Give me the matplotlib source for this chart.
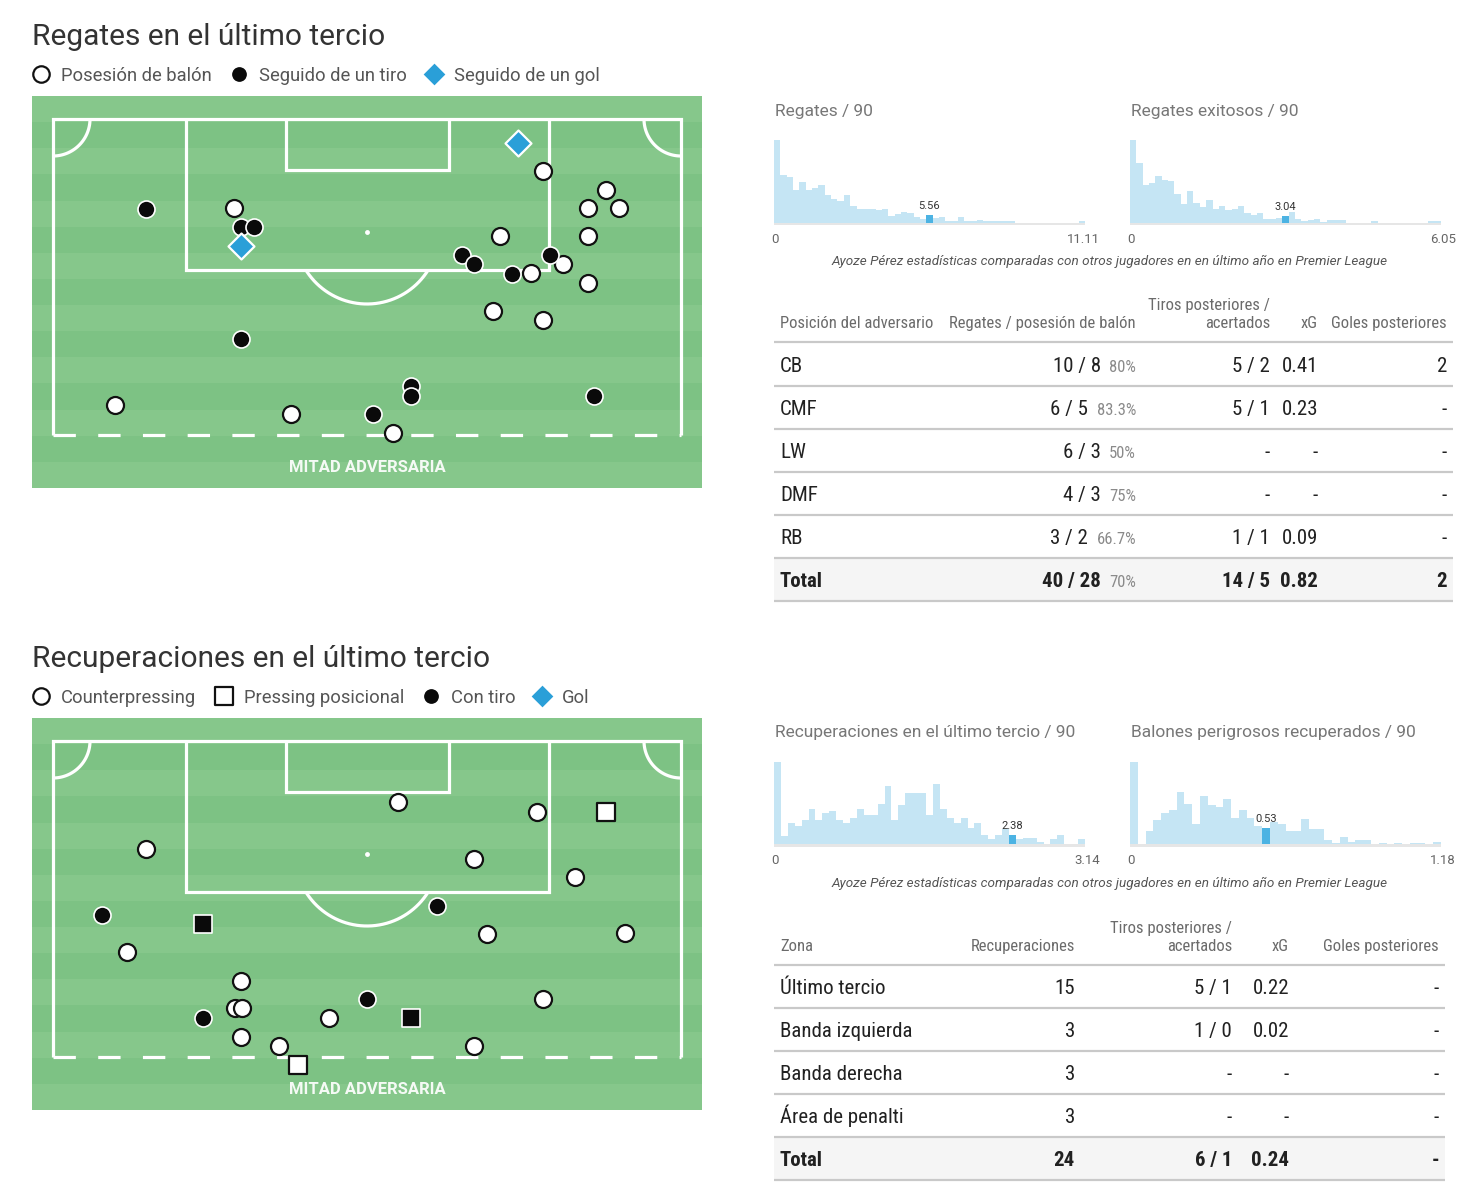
import numpy as np
import matplotlib
matplotlib.use('Agg')
import matplotlib.pyplot as plt
from matplotlib.patches import Rectangle
from matplotlib.textpath import TextPath
from matplotlib.font_manager import FontProperties, fontManager

W, H, DPI = 1480, 1187, 100

# --- Pitch 1: dribbles (metres: x across from left touchline, y from goal line) ---
P1_POS_X = [19.6, 53.1, 59.9, 57.9, 61.3, 48.4, 57.9, 55.2, 51.8, 57.9, 47.6, 53.1, 6.7, 25.8, 36.8]
P1_POS_Y = [9.9, 5.8, 7.9, 9.9, 9.9, 13.0, 13.0, 16.1, 17.1, 18.2, 21.3, 22.3, 31.7, 32.7, 34.8]
P1_SHOT_X = [10.1, 20.4, 21.8, 44.3, 45.6, 53.8, 49.7, 20.4, 38.8, 38.8, 34.7, 58.6]
P1_SHOT_Y = [10.0, 12.0, 12.0, 15.1, 16.1, 15.1, 17.2, 24.4, 29.6, 30.7, 32.7, 30.7]
P1_GOAL_X = [50.4, 20.4]
P1_GOAL_Y = [2.7, 14.1]

# --- Pitch 2: recoveries ---
P2_CP_X = [37.4, 52.4, 10.1, 45.6, 56.5, 47.0, 61.9, 8.0, 20.4, 53.1, 19.7, 20.5, 20.4, 29.9, 24.5, 45.6]
P2_CP_Y = [6.8, 7.9, 12.0, 13.1, 15.1, 21.4, 21.3, 23.4, 26.6, 28.6, 29.6, 29.6, 32.8, 30.7, 33.8, 33.8]
P2_PP_X = [59.9, 26.5]
P2_PP_Y = [7.9, 35.9]
P2_PP_SHOT_X = [16.2, 38.8]
P2_PP_SHOT_Y = [20.3, 30.7]
P2_SHOT_X = [5.3, 41.6, 34.0, 16.2]
P2_SHOT_Y = [19.3, 18.3, 28.6, 30.7]

# --- Distribution histograms (relative heights) ---
H1 = [1.00, 0.58, 0.55, 0.40, 0.49, 0.40, 0.42, 0.46, 0.33, 0.29, 0.26, 0.33, 0.20, 0.16, 0.16,
      0.16, 0.15, 0.16, 0.08, 0.11, 0.13, 0.12, 0.07, 0.05, 0.09, 0.06, 0.065, 0.02, 0.02, 0.065,
      0.025, 0.025, 0.035, 0.02, 0.02, 0.02, 0.02, 0.02, 0, 0, 0, 0, 0, 0, 0, 0, 0, 0, 0.02]
H1_HL, H1_VAL, H1_MAX = 24, '5.56', '11.11'
H2 = [1.00, 0.72, 0.46, 0.48, 0.56, 0.52, 0.51, 0.35, 0.23, 0.38, 0.24, 0.19, 0.27, 0.17, 0.20,
      0.15, 0.17, 0.20, 0.12, 0.09, 0.12, 0.04, 0.05, 0.06, 0.08, 0.13, 0.04, 0.02, 0.03, 0.04,
      0.01, 0.03, 0.03, 0.03, 0, 0, 0, 0, 0.02, 0, 0, 0, 0, 0, 0, 0, 0, 0.02, 0.02]
H2_HL, H2_VAL, H2_MAX = 24, '3.04', '6.05'
H3 = [1.00, 0.10, 0.26, 0.22, 0.29, 0.43, 0.29, 0.38, 0.40, 0.29, 0.26, 0.32, 0.43, 0.35, 0.35,
      0.49, 0.71, 0.29, 0.47, 0.62, 0.62, 0.62, 0.35, 0.73, 0.43, 0.32, 0.26, 0.32, 0.20, 0.26,
      0.11, 0.07, 0.11, 0.18, 0.11, 0.06, 0.08, 0.08, 0.03, 0, 0.06, 0.11, 0, 0, 0.06]
H3_HL, H3_VAL, H3_MAX = 34, '2.38', '3.14'
H4 = [1.00, 0, 0.16, 0.29, 0.38, 0.41, 0.63, 0.49, 0.24, 0.59, 0.47, 0.45, 0.55, 0.32, 0.42,
      0.32, 0.22, 0.20, 0.27, 0.24, 0.16, 0.16, 0.30, 0.18, 0.18, 0.05, 0.01, 0.09, 0.03, 0.05,
      0.05, 0, 0.02, 0, 0.02, 0, 0.02, 0.02, 0, 0.03]
H4_HL, H4_VAL, H4_MAX = 17, '0.53', '1.18'

CAPTION = 'Ayoze Pérez estadísticas comparadas con otros jugadores en en último año en Premier League'

# --- Table 1 ---
T1_HEAD = ['Posición del adversario', 'Regates / posesión de balón', 'Tiros posteriores /\nacertados', 'xG', 'Goles posteriores']
T1_POS = ['CB', 'CMF', 'LW', 'DMF', 'RB', 'Total']
T1_REG = ['10 / 8', '6 / 5', '6 / 3', '4 / 3', '3 / 2', '40 / 28']
T1_PCT = ['80%', '83.3%', '50%', '75%', '66.7%', '70%']
T1_TIROS = ['5 / 2', '5 / 1', '-', '-', '1 / 1', '14 / 5']
T1_XG = ['0.41', '0.23', '-', '-', '0.09', '0.82']
T1_GOLES = ['2', '-', '-', '-', '-', '2']

# --- Table 2 ---
T2_HEAD = ['Zona', 'Recuperaciones', 'Tiros posteriores /\nacertados', 'xG', 'Goles posteriores']
T2_ZONA = ['Último tercio', 'Banda izquierda', 'Banda derecha', 'Área de penalti', 'Total']
T2_REC = ['15', '3', '3', '3', '24']
T2_TIROS = ['5 / 1', '1 / 0', '-', '-', '6 / 1']
T2_XG = ['0.22', '0.02', '-', '-', '0.24']
T2_GOLES = ['-', '-', '-', '-', '-']

# --- styling ---
FONT = 'Roboto'
_names = {f.name for f in fontManager.ttflist}
if 'Roboto Condensed' in _names:
    TFONT, HSZ, RSZ, PSZ = 'Roboto Condensed', 12, 15, 12
else:
    TFONT, HSZ, RSZ, PSZ = 'Roboto', 10.5, 13.3, 10.5
plt.rcParams['font.family'] = [FONT, 'DejaVu Sans']

GREEN_L, GREEN_D = '#86c78b', '#7dc284'
BAR_C, HL_C = '#c5e5f4', '#4cb3e3'
BLUE = '#2a9fd8'
SX = 628 / 68.0   # px per metre across the pitch
SY = 316 / 35.0   # px per metre from the goal line

fig = plt.figure(figsize=(W / DPI, H / DPI), dpi=DPI)
ov = fig.add_axes([0, 0, 1, 1])
ov.set_xlim(0, W)
ov.set_ylim(H, 0)
ov.axis('off')


def frac(x0, y0, x1, y1):
    return [x0 / W, 1 - y1 / H, (x1 - x0) / W, (y1 - y0) / H]


def text_w(s, size, weight='normal', family=TFONT):
    fp = FontProperties(family=family, size=size, weight=weight)
    return TextPath((0, 0), s, size=size, prop=fp).get_extents().width * DPI / 72


def draw_pitch(top):
    ax = fig.add_axes(frac(32, top, 702, top + 392))
    y_top, y_bot = -23 / SY, 369 / SY
    ax.set_xlim(-21 / SX, 649 / SX)
    ax.set_ylim(y_bot, y_top)
    ax.axis('off')
    n = 15
    h = (y_bot - y_top) / n
    for i in range(n):
        ax.axhspan(y_top + i * h, y_top + (i + 1) * h, color=GREEN_L if i % 2 == 0 else GREEN_D, lw=0)
    kw = dict(color='white', lw=2.3, solid_capstyle='butt', solid_joinstyle='miter', zorder=2)
    ax.plot([0, 0, 68, 68], [35, 0, 0, 35], **kw)
    ax.plot([0, 68], [35, 35], color='white', lw=2.3, linestyle=(0, (7, 7)), dash_capstyle='butt', zorder=2)
    bx0, bx1, bd = 133 / SX, 496 / SX, 151 / SY
    ax.plot([bx0, bx0, bx1, bx1], [0, bd, bd, 0], **kw)
    gx0, gx1, gd = 233 / SX, 396 / SX, 51 / SY
    ax.plot([gx0, gx0, gx1, gx1], [0, gd, gd, 0], **kw)
    spx, spy = 314 / SX, 113 / SY
    ax.plot(spx, spy, 'o', color='white', ms=3.5, mec='none', zorder=2)
    t = np.linspace(0, np.pi, 300)
    arx = spx + 72 * np.cos(t) / SX
    ary = spy + 72 * np.sin(t) / SY
    m = ary >= bd
    ax.plot(arx[m], ary[m], **kw)
    t = np.linspace(0, np.pi / 2, 60)
    ax.plot(37 * np.cos(t) / SX, 37 * np.sin(t) / SY, **kw)
    ax.plot(68 - 37 * np.cos(t) / SX, 37 * np.sin(t) / SY, **kw)
    ax.text(34, 348 / SY, 'MITAD ADVERSARIA', color='white', alpha=0.92, fontsize=12,
            fontweight='bold', ha='center', va='center', zorder=2)
    return ax


def white_pts(ax, x, y, marker='o', s=150):
    ax.scatter(x, y, s=s, marker=marker, facecolor='white', edgecolor='#111111', linewidths=1.6, zorder=5)


def black_pts(ax, x, y, marker='o', s=150):
    ax.scatter(x, y, s=s, marker=marker, facecolor='#0a0a0a', edgecolor='white', linewidths=1.2, zorder=6)


def goal_pts(ax, x, y):
    ax.scatter(x, y, s=175, marker='D', facecolor=BLUE, edgecolor='white', linewidths=1.6, zorder=7)


def draw_hist(x0, base, vals, hl, val, vmax, title):
    ax = fig.add_axes(frac(x0, base - 82.7, x0 + 311, base))
    n = len(vals)
    cols = [HL_C if i == hl else BAR_C for i in range(n)]
    ax.bar(np.arange(n), vals, width=1.0, color=cols, linewidth=0, antialiased=False)
    ax.set_xlim(-0.5, n - 0.5)
    ax.set_ylim(0, 1)
    ax.axis('off')
    ax.annotate(val, (hl, vals[hl]), xytext=(0, 3), textcoords='offset points',
                ha='center', va='bottom', fontsize=8, color='#333333')
    ov.add_patch(Rectangle((x0, base), 311, 2.5, color='#e6e6e6', lw=0))
    ov.text(x0 + 1, base - 107, title, fontsize=12.5, color='#777777', va='baseline', ha='left')
    ov.text(x0 - 3, base + 20, '0', fontsize=9.5, color='#666666', va='baseline', ha='left')
    ov.text(x0 + 326, base + 20, vmax, fontsize=9.5, color='#666666', va='baseline', ha='right')


def legend_row(y, items):
    for x, kind, label in items:
        if kind == 'white':
            ov.scatter([x], [y], s=140, facecolor='white', edgecolor='#111111', linewidths=1.6)
        elif kind == 'black':
            ov.scatter([x], [y], s=140, facecolor='#0a0a0a', edgecolor='white', linewidths=1.2)
        elif kind == 'square':
            ov.scatter([x], [y], s=150, marker='s', facecolor='white', edgecolor='#111111', linewidths=1.6)
        else:
            ov.scatter([x], [y], s=150, marker='D', facecolor=BLUE, edgecolor='white', linewidths=1.2)
        ov.text(x + 20, y + 7, label, fontsize=13.2, color='#555555', va='baseline', ha='left')


def table_lines(x0, x1, ys, total_top):
    ov.add_patch(Rectangle((x0, total_top), x1 - x0, 43, color='#f5f5f5', lw=0, zorder=0))
    for y in ys:
        ov.plot([x0, x1], [y, y], color='#c9c9c9', lw=1.6, solid_capstyle='butt', zorder=1)


def header(hy, left, rights, labels):
    ov.text(left, hy, labels[0], family=TFONT, fontsize=HSZ, color='#6b6b6b', va='baseline', ha='left')
    for r, lab in zip(rights, labels[1:]):
        lines = lab.split('\n')
        for k, ln in enumerate(reversed(lines)):
            ov.text(r, hy - 18 * k, ln, family=TFONT, fontsize=HSZ, color='#6b6b6b', va='baseline', ha='right')


def cell(x, y, s, ha='right', bold=False, size=None, color='#212121'):
    ov.text(x, y, s, family=TFONT, fontsize=size or RSZ, color=color, va='baseline', ha=ha,
            fontweight='bold' if bold else 'normal')


# ---------------- Section 1 ----------------
ov.text(32, 45, 'Regates en el último tercio', fontsize=21.5, color='#333333', va='baseline')
legend_row(74, [(41, 'white', 'Posesión de balón'), (239, 'black', 'Seguido de un tiro'),
                (434, 'diamond', 'Seguido de un gol')])
p1 = draw_pitch(96)
white_pts(p1, P1_POS_X, P1_POS_Y)
black_pts(p1, P1_SHOT_X, P1_SHOT_Y)
goal_pts(p1, P1_GOAL_X, P1_GOAL_Y)

draw_hist(774, 222.7, H1, H1_HL, H1_VAL, H1_MAX, 'Regates / 90')
draw_hist(1130, 222.7, H2, H2_HL, H2_VAL, H2_MAX, 'Regates exitosos / 90')
ov.text(1110, 265, CAPTION, fontsize=9.7, style='italic', color='#555555', ha='center', va='baseline')

table_lines(774, 1453, [342, 386, 429, 472, 515, 558, 601], 558)
header(328, 780, [1136, 1270, 1318, 1447], T1_HEAD)
for i in range(len(T1_POS)):
    y = 372 + 43 * i
    b = T1_POS[i] == 'Total'
    cell(780, y, T1_POS[i], ha='left', bold=b)
    cell(1136, y, T1_PCT[i], size=PSZ, color='#8a8a8a')
    cell(1136 - text_w(T1_PCT[i], PSZ) - 10, y, T1_REG[i], bold=b)
    cell(1270, y, T1_TIROS[i], bold=b)
    cell(1318, y, T1_XG[i], bold=b)
    cell(1447, y, T1_GOLES[i], bold=b)

# ---------------- Section 2 ----------------
ov.text(32, 667, 'Recuperaciones en el último tercio', fontsize=21.5, color='#333333', va='baseline')
legend_row(696, [(41, 'white', 'Counterpressing'), (224, 'square', 'Pressing posicional'),
                 (431, 'black', 'Con tiro'), (542, 'diamond', 'Gol')])
p2 = draw_pitch(718)
white_pts(p2, P2_CP_X, P2_CP_Y)
white_pts(p2, P2_PP_X, P2_PP_Y, marker='s', s=160)
black_pts(p2, P2_PP_SHOT_X, P2_PP_SHOT_Y, marker='s', s=160)
black_pts(p2, P2_SHOT_X, P2_SHOT_Y)

draw_hist(774, 844.3, H3, H3_HL, H3_VAL, H3_MAX, 'Recuperaciones en el último tercio / 90')
draw_hist(1130, 844.3, H4, H4_HL, H4_VAL, H4_MAX, 'Balones perigrosos recuperados / 90')
ov.text(1110, 887, CAPTION, fontsize=9.7, style='italic', color='#555555', ha='center', va='baseline')

table_lines(774, 1445, [965, 1008, 1051, 1094, 1137, 1180], 1137)
header(951, 780, [1075, 1232, 1289, 1439], T2_HEAD)
for i in range(len(T2_ZONA)):
    y = 994 + 43 * i
    b = T2_ZONA[i] == 'Total'
    cell(780, y, T2_ZONA[i], ha='left', bold=b)
    cell(1075, y, T2_REC[i], bold=b)
    cell(1232, y, T2_TIROS[i], bold=b)
    cell(1289, y, T2_XG[i], bold=b)
    cell(1439, y, T2_GOLES[i], bold=b)

fig.savefig('out.png', dpi=DPI)
